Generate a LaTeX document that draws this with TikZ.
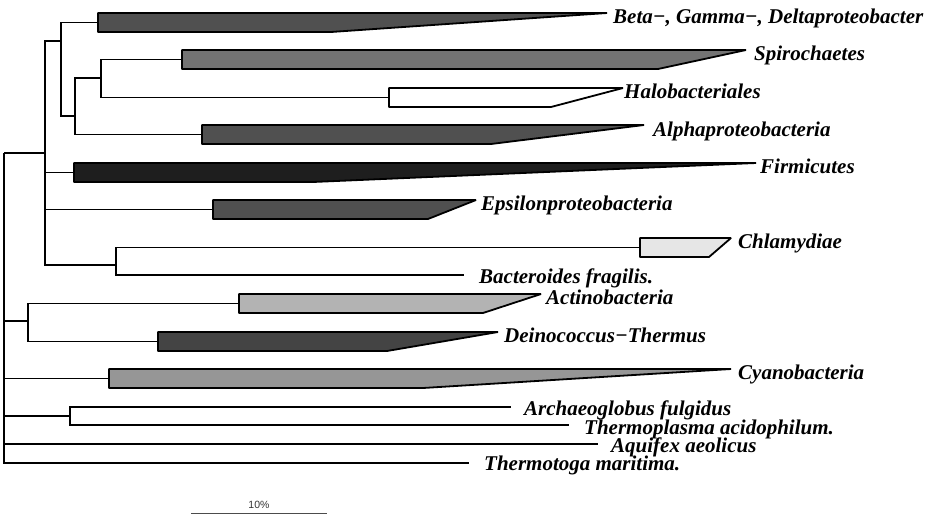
\documentclass[tikz,border=0pt]{standalone}
\usepackage{fontspec}
\setmainfont{Liberation Serif}
\newfontfamily\barfont{Liberation Sans}
\definecolor{cladeA}{HTML}{505050}
\definecolor{cladeS}{HTML}{737373}
\definecolor{cladeF}{HTML}{1E1E1E}
\definecolor{cladeC}{HTML}{E6E6E6}
\definecolor{cladeK}{HTML}{B3B3B3}
\definecolor{cladeD}{HTML}{444444}
\definecolor{cladeY}{HTML}{969696}
\begin{document}
\begin{tikzpicture}[x = 1pt, y = -1pt,
		branch/.style = {line width = 1.2pt},
		clade/.style = {line width = 1.8pt, line join = bevel},
		taxon/.style = {anchor = base west, inner sep = 0pt, font = \bfseries\itshape\fontsize{21}{24}\selectfont}]
		\useasboundingbox (0,0) rectangle (941,517);
		% inner nodes of the tree
		\coordinate (root) at (4,153);
		\coordinate (nA) at (45,153);
		\coordinate (nB) at (61,41);
		\coordinate (nD) at (75,116);
		\coordinate (nE) at (101,78);
		\coordinate (nC) at (116,265);
		\coordinate (nF) at (28,321);
		\coordinate (nG) at (70,416);
		% leaves
		\coordinate (beta) at (98,22.5);
		\coordinate (spiro) at (182,59.5);
		\coordinate (halo) at (389,97.5);
		\coordinate (alpha) at (202,134.5);
		\coordinate (firm) at (74,172.5);
		\coordinate (eps) at (213,209.5);
		\coordinate (chlam) at (640,247.5);
		\coordinate (bact) at (464,275);
		\coordinate (actino) at (239,303.5);
		\coordinate (deino) at (158,341.5);
		\coordinate (cyano) at (109,378.5);
		\coordinate (archaeo) at (511,407);
		\coordinate (thplasma) at (569,425);
		\coordinate (aquifex) at (598,444);
		\coordinate (thtoga) at (469,463);
		\draw [branch] (root) |- (nA);
		\draw [branch] (root) |- (nF);
		\draw [branch] (root) |- (cyano);
		\draw [branch] (root) |- (nG);
		\draw [branch] (root) |- (aquifex);
		\draw [branch, line width = 1.8pt] (root) |- (thtoga);
		\draw [branch] (nA) |- (nB);
		\draw [branch] (nA) |- (firm);
		\draw [branch] (nA) |- (eps);
		\draw [branch] (nA) |- (nC);
		\draw [branch] (nB) |- (beta);
		\draw [branch] (nB) |- (nD);
		\draw [branch] (nD) |- (nE);
		\draw [branch] (nD) |- (alpha);
		\draw [branch] (nE) |- (spiro);
		\draw [branch] (nE) |- (halo);
		\draw [branch] (nC) |- (chlam);
		\draw [branch] (nC) |- (bact);
		\draw [branch] (nF) |- (actino);
		\draw [branch] (nF) |- (deino);
		\draw [branch] (nG) |- (archaeo);
		\draw [branch] (nG) |- (thplasma);
		% collapsed clades
		\draw [clade, fill = cladeA] (98,13) -- (607,13) -- (331,32) -- (98,32) -- cycle;
		\draw [clade, fill = cladeS] (182,50) -- (746,50) -- (658,69) -- (182,69) -- cycle;
		\draw [clade, fill = white] (389,88) -- (623,88) -- (551,107) -- (389,107) -- cycle;
		\draw [clade, fill = cladeA] (202,125) -- (644,125) -- (491,144) -- (202,144) -- cycle;
		\draw [clade, fill = cladeF] (74,163) -- (756,163) -- (313,182) -- (74,182) -- cycle;
		\draw [clade, fill = cladeA] (213,200) -- (476,200) -- (428,219) -- (213,219) -- cycle;
		\draw [clade, fill = cladeC] (640,238) -- (731,238) -- (709,257) -- (640,257) -- cycle;
		\draw [clade, fill = cladeK] (239,294) -- (541,294) -- (483,313) -- (239,313) -- cycle;
		\draw [clade, fill = cladeD] (158,332) -- (498,332) -- (387,351) -- (158,351) -- cycle;
		\draw [clade, fill = cladeY] (109,369) -- (731,369) -- (423,388) -- (109,388) -- cycle;
		% labels
		\node [taxon] (lbeta) at (613,23.5) {Beta−, Gamma−, Deltaproteobacter};
		\node [taxon] (lspiro) at (754,60) {Spirochaetes};
		\node [taxon] (lhalo) at (624,98) {Halobacteriales};
		\node [taxon] (lalpha) at (653,136) {Alphaproteobacteria};
		\node [taxon] (lfirm) at (760,173) {Firmicutes};
		\node [taxon] (leps) at (481,210) {Epsilonproteobacteria};
		\node [taxon] (lchlam) at (738,248) {Chlamydiae};
		\node [taxon] (lbact) at (479,283) {Bacteroides fragilis.};
		\node [taxon] (lactino) at (546,304) {Actinobacteria};
		\node [taxon] (ldeino) at (504,342) {Deinococcus−Thermus};
		\node [taxon] (lcyano) at (738,379) {Cyanobacteria};
		\node [taxon] (larchaeo) at (524,415) {Archaeoglobus fulgidus};
		\node [taxon] (lthplasma) at (584,434) {Thermoplasma acidophilum.};
		\node [taxon] (laquifex) at (611,452) {Aquifex aeolicus};
		\node [taxon] (lthtoga) at (484,470) {Thermotoga maritima.};
		% scale bar
		\coordinate (sbl) at (191,513);
		\coordinate (sbr) at (327,513);
		\draw [line width = 1pt, black!70] (sbl) -- (sbr);
		\node [anchor = base, inner sep = 0pt, font = \barfont\fontsize{10.5}{12}\selectfont, black!80] (sbtext) at (259,508) {10\%};
	\end{tikzpicture}
\end{document}
